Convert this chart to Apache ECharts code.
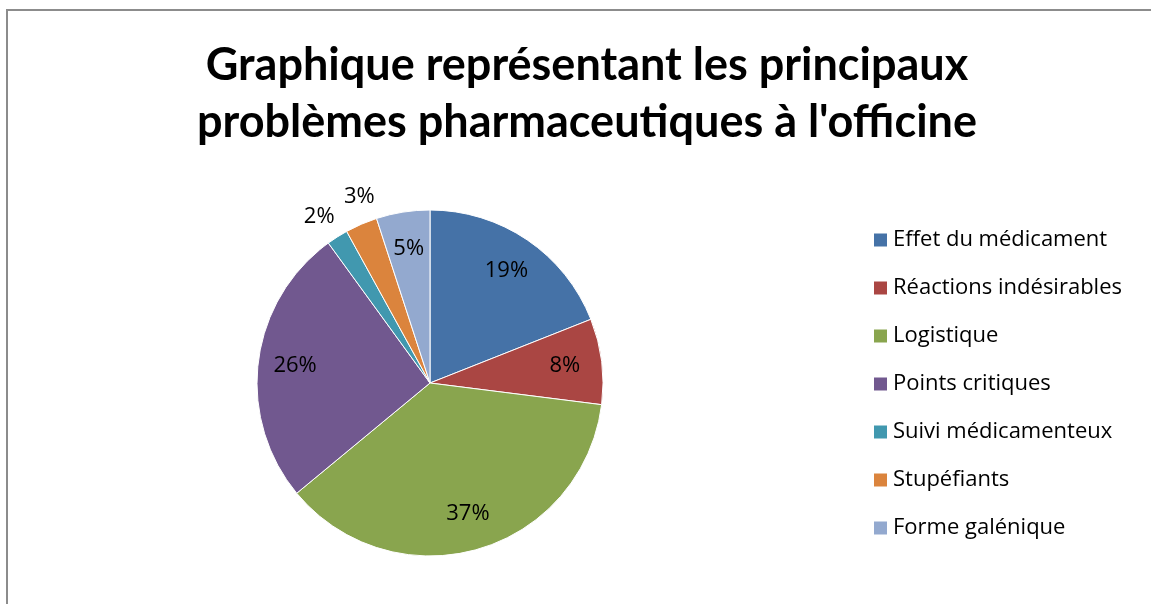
<!DOCTYPE html>
<html>
<head>
<meta charset="utf-8">
<script src="https://cdn.jsdelivr.net/npm/echarts@6/dist/echarts.min.js"></script>
<style>
  html, body { margin: 0; padding: 0; background: #fff; }
  #chart { width: 1151px; height: 604px; }
</style>
</head>
<body>
<div id="chart"></div>
<script>
// données (pourcentages)
const categories = ['Effet du médicament', 'Réactions indésirables', 'Logistique', 'Points critiques', 'Suivi médicamenteux', 'Stupéfiants', 'Forme galénique']
const values = [19, 8, 37, 26, 2, 3, 5]
const colors = ['#4572A7', '#AA4643', '#89A54E', '#71588F', '#4198AF', '#DB843D', '#93A9CF']
// petites parts : étiquette à l'extérieur
const outsideLabels = ['Suivi médicamenteux', 'Stupéfiants']
const outsideOffsets = { 'Suivi médicamenteux': [-2, 5], 'Stupéfiants': [10, 0] }

const titleFont = 'Lato'
const font = 'Open Sans'
const center = [430, 383]

const pieData = categories.map((name, i) => ({ name, value: values[i] }))

const chart = echarts.init(document.getElementById('chart'))

const labelRing = (radius, showFn) => ({
  type: 'pie',
  radius: radius,
  center: center,
  startAngle: 90,
  clockwise: true,
  silent: true,
  legendHoverLink: false,
  avoidLabelOverlap: false,
  labelLayout: { hideOverlap: false },
  itemStyle: { color: 'rgba(0,0,0,0)', borderWidth: 0 },
  emphasis: { disabled: true },
  labelLine: { show: false },
  data: pieData.map(d => ({
    name: d.name,
    value: d.value,
    label: { show: showFn(d.name), offset: outsideOffsets[d.name] || [0, 0] }
  })),
  label: {
    position: 'inside',
    formatter: p => p.value + '%',
    fontFamily: font,
    fontSize: 22,
    color: '#000'
  }
})

chart.setOption({
  backgroundColor: '#fff',
  animation: false,
  color: colors,
  title: {
    text: 'Graphique représentant les principaux\nproblèmes pharmaceutiques à l\'officine',
    left: 582,
    textAlign: 'center',
    top: 32,
    textStyle: {
      fontFamily: titleFont,
      fontWeight: 'bold',
      fontSize: 45,
      lineHeight: 57,
      color: '#000'
    }
  },
  legend: {
    orient: 'vertical',
    left: 867,
    top: 224,
    icon: 'rect',
    itemWidth: 15,
    itemHeight: 15,
    itemGap: 26,
    selectedMode: false,
    data: categories,
    textStyle: { fontFamily: font, fontSize: 22, lineHeight: 22, color: '#000' }
  },
  graphic: [{
    type: 'rect',
    shape: { x: 7, y: 10, width: 1200, height: 700 },
    style: { fill: 'none', stroke: '#8c8c8c', lineWidth: 2 },
    z: 100,
    silent: true
  }],
  series: [
    {
      type: 'pie',
      radius: 173,
      center: center,
      startAngle: 90,
      clockwise: true,
      label: { show: false },
      labelLine: { show: false },
      itemStyle: { borderColor: '#fff', borderWidth: 1 },
      emphasis: { disabled: true },
      data: pieData
    },
    labelRing([93, 173], n => !outsideLabels.includes(n)),
    labelRing([190, 210], n => outsideLabels.includes(n))
  ]
})
</script>
</body>
</html>
